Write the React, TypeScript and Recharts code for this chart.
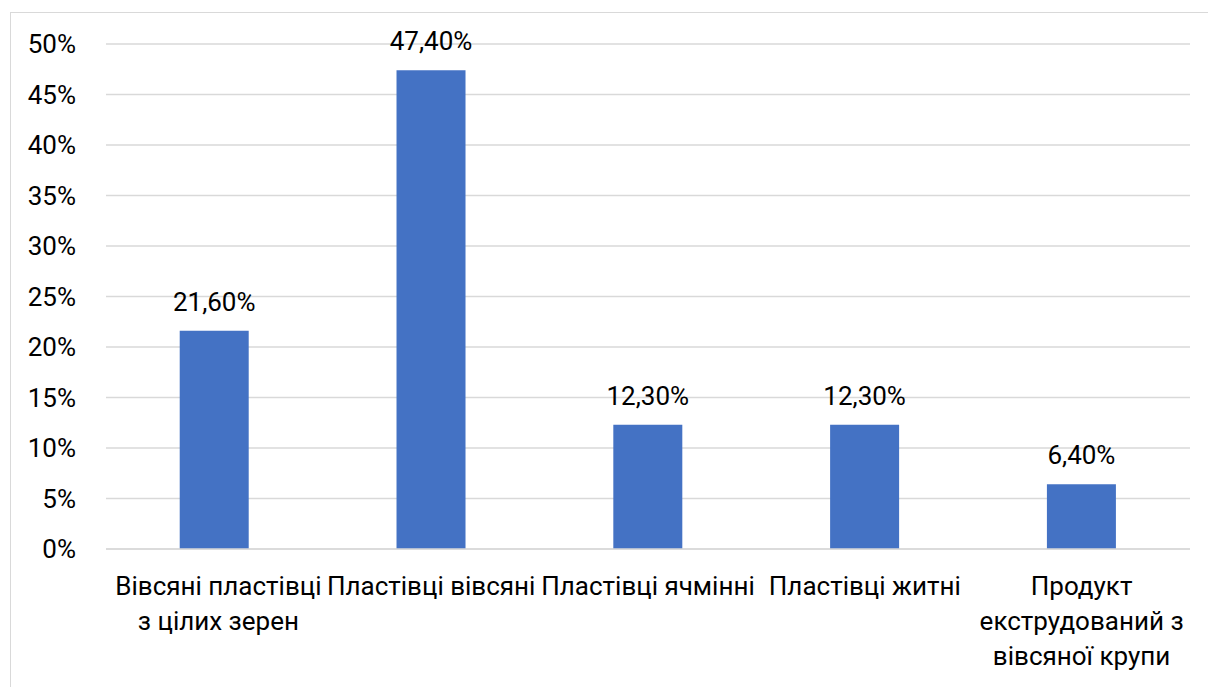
import React from 'react';
import { BarChart, Bar, XAxis, YAxis, CartesianGrid, LabelList } from 'recharts';

// Categories (line breaks mark where the axis label wraps)
const categories = [
  'Вівсяні пластівці\nз цілих зерен',
  'Пластівці вівсяні',
  'Пластівці ячмінні',
  'Пластівці житні',
  'Продукт\nекструдований з\nвівсяної крупи',
];

// Share, percent
const shares = [21.6, 47.4, 12.3, 12.3, 6.4];

const yTicks = [0, 5, 10, 15, 20, 25, 30, 35, 40, 45, 50];

const data = categories.map((name, i) => ({ name, value: shares[i] }));

const FONT = 'Roboto, "Noto Sans", sans-serif';
const FONT_SIZE = 26;
const TEXT = '#000000';
const GRID = '#d9d9d9';
const BAR = '#4472C4';

const fmtValue = (v: any) => `${Number(v).toFixed(2).replace('.', ',')}%`;

function CategoryTick(props: any) {
  const { x, y, payload } = props;
  const lines = String(payload.value).split('\n');
  return (
    <text x={x} y={y} textAnchor="middle" fill={TEXT} fontFamily={FONT} fontSize={FONT_SIZE}>
      {lines.map((line, i) => (
        <tspan key={i} x={x + (lines.length === 2 ? 4 : 0)} dy={i === 0 ? 38 : 35}>
          {line}
        </tspan>
      ))}
    </text>
  );
}

export default function App() {
  return (
    <div style={{ position: 'absolute', left: 0, top: 0, width: 1208, height: 687, background: '#fff', overflow: 'hidden' }}>
      <div
        style={{
          position: 'absolute',
          left: 10,
          top: 12,
          width: 1300,
          height: 800,
          border: `1px solid ${GRID}`,
          boxSizing: 'border-box',
        }}
      />
      <BarChart
        width={1208}
        height={687}
        data={data}
        margin={{ top: 44, right: 18, left: 0, bottom: 0 }}
        barCategoryGap="34%"
        style={{ position: 'absolute', left: 0, top: 0 }}
      >
        <CartesianGrid vertical={false} stroke={GRID} strokeWidth={1.5} />
        <XAxis
          dataKey="name"
          interval={0}
          height={138}
          tickLine={false}
          axisLine={{ stroke: GRID, strokeWidth: 1.5 }}
          tick={<CategoryTick />}
        />
        <YAxis
          width={106}
          domain={[0, 50]}
          ticks={yTicks}
          interval={0}
          tickLine={false}
          axisLine={false}
          tickMargin={24}
          tickFormatter={(v: number) => `${v}%`}
          tick={{ fill: TEXT, fontFamily: FONT, fontSize: FONT_SIZE }}
        />
        <Bar dataKey="value" fill={BAR} isAnimationActive={false}>
          <LabelList
            dataKey="value"
            position="top"
            offset={20}
            formatter={fmtValue}
            fill={TEXT}
            fontFamily={FONT}
            fontSize={FONT_SIZE}
          />
        </Bar>
      </BarChart>
    </div>
  );
}
